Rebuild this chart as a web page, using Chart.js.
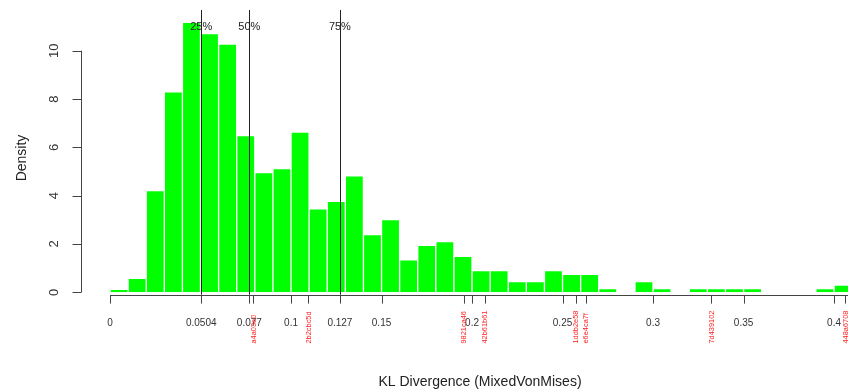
<!DOCTYPE html>
<html>
<head>
<meta charset="utf-8">
<title>KL Divergence (MixedVonMises)</title>
<script src="https://cdn.jsdelivr.net/npm/chart.js@4/dist/chart.umd.min.js"></script>
<style>
  html, body { margin: 0; padding: 0; background: #ffffff; }
  #wrap { width: 848px; height: 391px; }
</style>
</head>
<body>
<div id="wrap"><canvas id="hist" width="848" height="391"></canvas></div>
<script>
// Histogram bins: left edges (width 0.01) and density per bin
const binWidth = 0.01;
const binStarts = [0.00, 0.01, 0.02, 0.03, 0.04, 0.05, 0.06, 0.07, 0.08, 0.09,
                   0.10, 0.11, 0.12, 0.13, 0.14, 0.15, 0.16, 0.17, 0.18, 0.19,
                   0.20, 0.21, 0.22, 0.23, 0.24, 0.25, 0.26, 0.27, 0.28, 0.29,
                   0.30, 0.31, 0.32, 0.33, 0.34, 0.35, 0.36, 0.37, 0.38, 0.39, 0.40];
const density = [0.12, 0.58, 4.21, 8.30, 11.17, 10.71, 10.27, 6.49, 4.96, 5.12,
                 6.63, 3.45, 3.76, 4.82, 2.39, 3.01, 1.34, 1.94, 2.10, 1.49,
                 0.90, 0.90, 0.44, 0.44, 0.90, 0.74, 0.74, 0.15, 0.00, 0.44,
                 0.15, 0.00, 0.15, 0.15, 0.15, 0.15, 0.00, 0.00, 0.00, 0.15, 0.30];

// Quartile markers
const quantileValues = [0.0504, 0.077, 0.127];
const quantileLabels = ['25%', '50%', '75%'];

// x-axis tick positions and their labels
const xTickValues = [0, 0.0504, 0.077, 0.1, 0.127, 0.15, 0.2, 0.25, 0.3, 0.35, 0.4];
const xTickLabels = ['0', '0.0504', '0.077', '0.1', '0.127', '0.15', '0.2', '0.25', '0.3', '0.35', '0.4'];

// y-axis ticks
const yTickValues = [0, 2, 4, 6, 8, 10];
const yTickLabels = ['0', '2', '4', '6', '8', '10'];

// Highlighted samples marked under the axis
const sampleIds = ['a4a03e0', '2b2cbc5d', '9821ca46', '42b61b61', '1ddb2e58', 'e6e4ca7f', '7d439102', '448a6708'];
const sampleValues = [0.0790, 0.1095, 0.1955, 0.2069, 0.2573, 0.2628, 0.3320, 0.4061];

const xTitle = 'KL Divergence (MixedVonMises)';
const yTitle = 'Density';

const FONT = '"Liberation Sans", Arial, Helvetica, sans-serif';

// Draws the R-style axes, quartile lines and sample markers
const decorations = {
  id: 'decorations',
  afterDatasetsDraw(chart) {
    const ctx = chart.ctx;
    const xs = chart.scales.x;
    const ys = chart.scales.y;
    const axisY = ys.getPixelForValue(0) + 2.4;
    const tickLen = 8.6;

    ctx.save();

    // quartile lines
    ctx.strokeStyle = '#222222';
    ctx.lineWidth = 1;
    quantileValues.forEach((v) => {
      const px = Math.round(xs.getPixelForValue(v)) + 0.5;
      ctx.beginPath();
      ctx.moveTo(px, chart.chartArea.top);
      ctx.lineTo(px, axisY);
      ctx.stroke();
    });
    ctx.fillStyle = '#222222';
    ctx.font = '11px ' + FONT;
    ctx.textAlign = 'center';
    ctx.textBaseline = 'alphabetic';
    quantileValues.forEach((v, i) => {
      ctx.fillText(quantileLabels[i], xs.getPixelForValue(v), 30);
    });

    // x axis line
    ctx.strokeStyle = '#444444';
    ctx.beginPath();
    ctx.moveTo(xs.getPixelForValue(0), Math.round(axisY) + 0.5);
    ctx.lineTo(chart.width, Math.round(axisY) + 0.5);
    ctx.stroke();

    // x ticks (standard + sample markers)
    const allTicks = xTickValues.concat(sampleValues);
    allTicks.forEach((v) => {
      const px = Math.round(xs.getPixelForValue(v)) + 0.5;
      ctx.beginPath();
      ctx.moveTo(px, Math.round(axisY));
      ctx.lineTo(px, Math.round(axisY) + tickLen);
      ctx.stroke();
    });

    // x tick labels
    ctx.fillStyle = '#333333';
    ctx.font = '10px ' + FONT;
    ctx.textAlign = 'center';
    ctx.textBaseline = 'middle';
    xTickValues.forEach((v, i) => {
      ctx.fillText(xTickLabels[i], xs.getPixelForValue(v), 323);
    });

    // sample id labels, vertical, red
    ctx.fillStyle = '#ff2020';
    ctx.font = '7.4px ' + FONT;
    sampleValues.forEach((v, i) => {
      ctx.save();
      ctx.translate(xs.getPixelForValue(v) + 0.5, 343.5);
      ctx.rotate(-Math.PI / 2);
      ctx.textAlign = 'left';
      ctx.textBaseline = 'middle';
      ctx.fillText(sampleIds[i], 0, 0);
      ctx.restore();
    });

    // y axis
    const yAxisX = 81.5;
    ctx.strokeStyle = '#444444';
    ctx.beginPath();
    ctx.moveTo(yAxisX, ys.getPixelForValue(yTickValues[yTickValues.length - 1]));
    ctx.lineTo(yAxisX, ys.getPixelForValue(0));
    ctx.stroke();
    ctx.fillStyle = '#333333';
    ctx.font = '13px ' + FONT;
    yTickValues.forEach((v, i) => {
      const py = Math.round(ys.getPixelForValue(v)) + 0.5;
      ctx.beginPath();
      ctx.moveTo(yAxisX, py);
      ctx.lineTo(yAxisX - 9, py);
      ctx.stroke();
      ctx.save();
      ctx.translate(54, ys.getPixelForValue(v));
      ctx.rotate(-Math.PI / 2);
      ctx.textAlign = 'center';
      ctx.textBaseline = 'middle';
      ctx.fillText(yTickLabels[i], 0, 0);
      ctx.restore();
    });

    // axis titles
    ctx.fillStyle = '#222222';
    ctx.font = '14px ' + FONT;
    ctx.textAlign = 'center';
    ctx.textBaseline = 'alphabetic';
    ctx.fillText(xTitle, 480, 386);
    ctx.save();
    ctx.translate(25.5, 158);
    ctx.rotate(-Math.PI / 2);
    ctx.fillText(yTitle, 0, 0);
    ctx.restore();

    ctx.restore();
  }
};

const points = binStarts.map((s, i) => ({ x: s + binWidth / 2, y: density[i] }));

new Chart(document.getElementById('hist'), {
  type: 'bar',
  data: {
    datasets: [{
      data: points,
      backgroundColor: '#00ff00',
      borderColor: '#ffffff',
      borderWidth: 1,
      borderSkipped: 'bottom',
      categoryPercentage: 1.0,
      barPercentage: 1.0
    }]
  },
  options: {
    responsive: false,
    devicePixelRatio: 1,
    animation: false,
    layout: { padding: { left: 110, right: 0, top: 10, bottom: 98.7 } },
    plugins: { legend: { display: false }, tooltip: { enabled: false } },
    scales: {
      x: {
        type: 'linear',
        display: false,
        offset: false,
        min: 0,
        max: 0.4077,
        ticks: { stepSize: 0.05 },
        grid: { display: false, offset: false }
      },
      y: {
        type: 'linear',
        display: false,
        min: 0,
        max: 11.684,
        grid: { display: false }
      }
    }
  },
  plugins: [decorations]
});
</script>
</body>
</html>
